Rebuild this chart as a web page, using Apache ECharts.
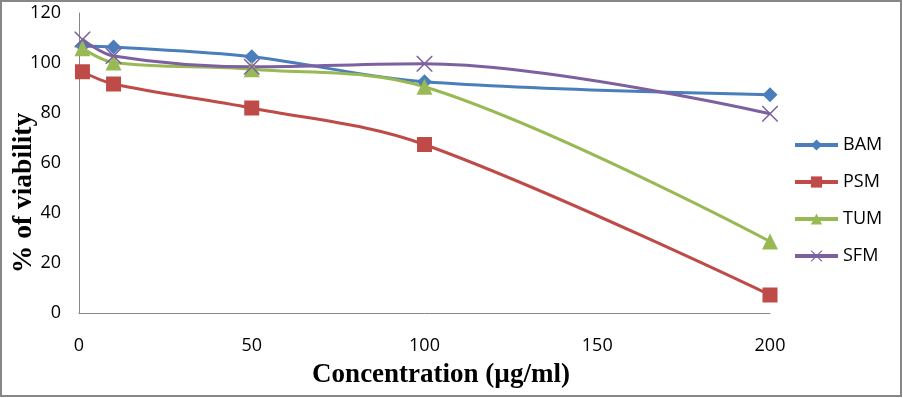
<!DOCTYPE html>
<html><head><meta charset="utf-8">
<script src="https://cdn.jsdelivr.net/npm/echarts@6/dist/echarts.min.js"></script>
<style>html,body{margin:0;padding:0;background:#fff}#c{width:903px;height:398px}</style>
</head><body><div id="c"></div>
<script>
const concentrations = [1, 10, 50, 100, 200];
const BAM = [106.8, 106.4, 102.5, 92.5, 87.3];
const PSM = [96.5, 91.6, 82, 67.4, 7.2];
const TUM = [105.9, 100.2, 97.5, 90.5, 28.6];
const SFM = [109.4, 102.8, 98.5, 99.7, 79.7];
const seriesNames = ['BAM', 'PSM', 'TUM', 'SFM'];
const xTicks = [0, 50, 100, 150, 200];
const yTicks = [0, 20, 40, 60, 80, 100, 120];
const xTitle = 'Concentration (µg/ml)';
const yTitle = '% of viability';

const colors = ['#4A7EBB', '#BE4B48', '#98B954', '#7D60A0'];
const crossPath = 'path://M0,0L0.7,0L10,9.3L10,10L9.3,10L0,0.7ZM9.3,0L10,0L10,0.7L0.7,10L0,10L0,9.3Z';
const symbols = ['diamond', 'rect', 'triangle', crossPath];
const sizes = [15, 15, 16, 16];
const dataSets = [BAM, PSM, TUM, SFM];
const titleFont = {fontFamily: 'Liberation Serif', fontWeight: 'bold', fill: '#000', align: 'center', verticalAlign: 'middle'};

const chart = echarts.init(document.getElementById('c'));
chart.setOption({
  animation: false,
  color: colors,
  grid: {left: 79, right: 133, top: 13, bottom: 85, containLabel: false, outerBoundsMode: 'none'},
  graphic: [
    {type: 'rect', shape: {x: 1, y: 1, width: 900, height: 395}, style: {fill: 'none', stroke: '#878787', lineWidth: 2}, z: -1},
    {type: 'text', x: 441, y: 375, style: Object.assign({text: xTitle, fontSize: 27}, titleFont)},
    {type: 'text', x: 24, y: 193, rotation: Math.PI / 2, style: Object.assign({text: yTitle, fontSize: 27.5}, titleFont)}
  ],
  legend: {
    orient: 'vertical', left: 793, top: 136, padding: 0, itemGap: 19, itemWidth: 43, itemHeight: 14,
    lineStyle: {width: 4},
    textStyle: {fontFamily: 'Open Sans', fontSize: 18, color: '#000'},
    data: seriesNames
  },
  xAxis: {
    type: 'value', min: 0, max: 200, interval: 50,
    axisLine: {show: true, lineStyle: {color: '#888', width: 1}},
    axisTick: {show: false}, splitLine: {show: false},
    axisLabel: {margin: 24, fontFamily: 'Open Sans', fontSize: 18, color: '#000'}
  },
  yAxis: {
    type: 'value', min: 0, max: 120, interval: 20,
    axisLine: {show: true, lineStyle: {color: '#888', width: 1}},
    axisTick: {show: false}, splitLine: {show: false},
    axisLabel: {margin: 18, fontFamily: 'Open Sans', fontSize: 18, color: '#000'}
  },
  series: seriesNames.map((n, i) => ({
    name: n, type: 'line', smooth: 0.35,
    symbol: symbols[i], symbolSize: sizes[i], showAllSymbol: true,
    lineStyle: {width: 3, color: colors[i]},
    itemStyle: {color: colors[i], opacity: 1},
    data: concentrations.map((c, j) => [c, dataSets[i][j]])
  }))
});
</script></body></html>
